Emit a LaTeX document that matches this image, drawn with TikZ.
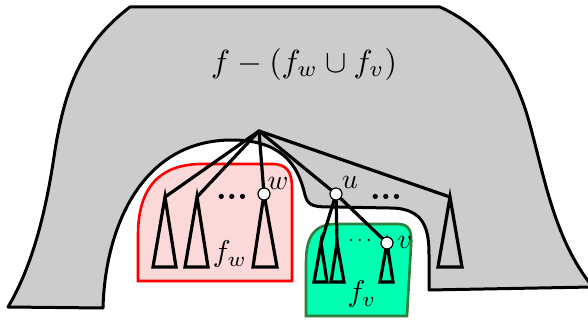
\documentclass[tikz,border=0pt]{standalone}
\definecolor{facegray}{RGB}{204,204,204}
\definecolor{fwfill}{RGB}{251,217,217}
\definecolor{fvfill}{RGB}{0,255,178}
\definecolor{fvline}{RGB}{48,125,60}
\tikzset{
  outline/.style={line width=3pt, line join=round},
  treeline/.style={line width=3.2pt, line cap=round, line join=miter},
  vtx/.style={circle, draw, fill=white, line width=1.2pt, minimum size=12pt, inner sep=0pt},
  biglbl/.style={inner sep=0pt, scale=3.2, transform shape},
  midlbl/.style={inner sep=0pt, scale=3.0, transform shape},
  vlbl/.style={inner sep=0pt, scale=2.8, transform shape},
  bolddots/.style={inner sep=0pt, anchor=base, scale=3.3, transform shape, font=\bfseries},
}
\begin{document}
\begin{tikzpicture}[x=1pt,y=-1pt]
\useasboundingbox (0,0) rectangle (588,321);
% face f
\draw[outline, fill=facegray]
  (8,307) -- (103,308)
  .. controls (105,230) and (140,140) .. (232,140)
  .. controls (290,140) and (300,175) .. (305,195)
  .. controls (308,207) and (315,207) .. (335,207)
  -- (390,208)
  .. controls (425,208) and (429,230) .. (429,255)
  -- (429,290) -- (592,287) -- (592,286)
  .. controls (555,240) and (545,180) .. (530,125)
  .. controls (515,70) and (490,30) .. (440,7)
  -- (130,7)
  .. controls (80,45) and (65,90) .. (55,150)
  .. controls (45,220) and (30,270) .. (8,307) -- cycle;
% f_w region
\draw[red, line width=2.6pt, fill=fwfill]
  (138,281) -- (138,235)
  .. controls (138,182) and (165,164) .. (202,164)
  -- (272,164)
  .. controls (287,164) and (292,172) .. (292,188)
  -- (292,281) -- cycle;
% f_v region
\draw[fvline, line width=2.6pt, fill=fvfill]
  (306,316) -- (306,262)
  .. controls (306,236) and (315,224) .. (336,224)
  -- (398,224)
  .. controls (410,224) and (412,232) .. (411,246)
  -- (407,316) -- cycle;
% tree
\coordinate (r) at (259,131);
\coordinate (a1) at (165,197);
\coordinate (a2) at (197,197);
\coordinate (w) at (264,194);
\coordinate (u) at (336,194);
\coordinate (a7) at (450,197);
\coordinate (a4) at (321,243);
\coordinate (a5) at (337,243);
\coordinate (v) at (387,243);
\draw[treeline] (r) -- (a1);
\draw[treeline] (r) -- (a2);
\draw[treeline] (r) -- (w);
\draw[treeline] (r) -- (u);
\draw[treeline] (r) -- (a7);
\draw[treeline] (u) -- (a4);
\draw[treeline] (u) -- (a5);
\draw[treeline] (u) -- (v);
% subtrees
\draw[treeline] (a1) -- (176,267) -- (153,267) -- cycle;
\draw[treeline] (a2) -- (208,267) -- (185,267) -- cycle;
\draw[treeline] (w) -- (277,267) -- (253,267) -- cycle;
\draw[treeline] (a7) -- (462,267) -- (438,267) -- cycle;
\draw[treeline] (a4) -- (327,282) -- (314,282) -- cycle;
\draw[treeline] (a5) -- (344,282) -- (331,282) -- cycle;
\draw[treeline] (v) -- (393,282) -- (380,282) -- cycle;
% vertices
\node[vtx] (wn) at (w) {};
\node[vtx] (un) at (u) {};
\node[vtx] (vn) at (v) {};
% labels
\node[vlbl] (wl) at (278,183) {$w$};
\node[vlbl] (ul) at (350,182) {$u$};
\node[vlbl] (vl) at (405,242) {$v$};
\node[bolddots] (d1) at (232,199) {...};
\node[bolddots] (d2) at (386,199) {...};
\node[inner sep=0pt, scale=2, transform shape] (d3) at (360,241) {$\cdots$};
\node[midlbl] (fw) at (230,254) {$f_w$};
\node[midlbl] (fv) at (362,294) {$f_v$};
\node[biglbl] (main) at (304,64) {$f-(f_w\cup f_v)$};
\end{tikzpicture}
\end{document}
